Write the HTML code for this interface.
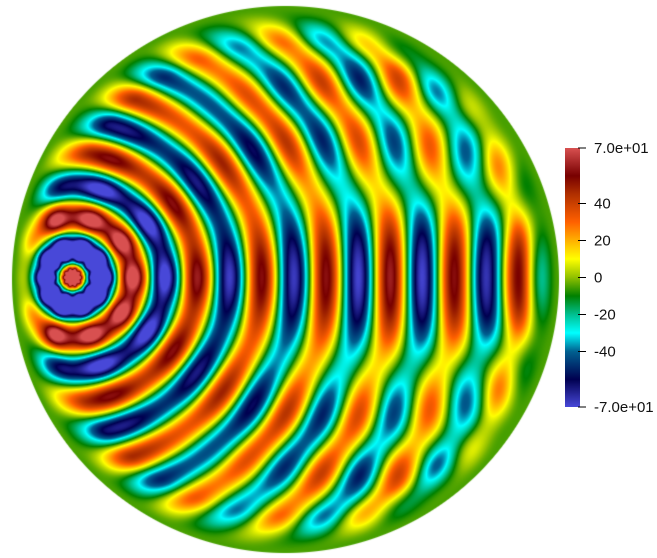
<!DOCTYPE html>
<html><head><meta charset="utf-8"><style>
html,body{margin:0;padding:0;background:#fff;width:657px;height:558px;overflow:hidden;font-family:"Liberation Sans",sans-serif}
#field{position:absolute;left:0;top:0}
#cb{position:absolute;left:0;top:0}
</style></head><body>
<canvas id="field" width="657" height="558"></canvas>
<svg id="cb" width="657" height="558">
<defs><linearGradient id="g" x1="0" y1="0" x2="0" y2="1"></linearGradient></defs>
<rect x="565" y="148" width="15" height="259" fill="url(#g)"/>
<g id="ticks" font-size="15" fill="#111"></g>
</svg>
<script>
const tickValues=[70,40,20,0,-20,-40,-70];
const tickLabels=["7.0e+01","40","20","0","-20","-40","-7.0e+01"];
const source=[72,277];
const wavelength=[64];
const cmapVals=[70,55,45,30,20,10,0,-10,-20,-30,-40,-55,-70];
const cmapCols=[[216,80,80],[120,0,0],[176,48,0],[255,96,0],[255,176,0],[255,255,0],[144,192,0],[0,128,0],[0,192,144],[0,255,255],[0,96,144],[0,0,80],[72,72,216]];
const vmin=-70,vmax=70,cbTop=148,cbBot=407;
function cy(v){return cbTop+(vmax-v)/(vmax-vmin)*(cbBot-cbTop);}
const grad=document.getElementById('g');
cmapVals.forEach((v,i)=>{const s=document.createElementNS('http://www.w3.org/2000/svg','stop');s.setAttribute('offset',(vmax-v)/(vmax-vmin));s.setAttribute('stop-color','rgb('+cmapCols[i].join(',')+')');grad.appendChild(s);});
const tg=document.getElementById('ticks');
tickValues.forEach((v,i)=>{
 const l=document.createElementNS('http://www.w3.org/2000/svg','line');
 l.setAttribute('x1',578);l.setAttribute('x2',586);l.setAttribute('y1',cy(v));l.setAttribute('y2',cy(v));l.setAttribute('stroke','#000');
 
 
 tg.appendChild(l);
 const t=document.createElementNS('http://www.w3.org/2000/svg','text');
 t.setAttribute('x',594);t.setAttribute('y',cy(v)+5);t.textContent=tickLabels[i];
 
 
 tg.appendChild(t);
});
function cmap(v){
 if(v>=cmapVals[0])return cmapCols[0];
 if(v<=cmapVals[cmapVals.length-1])return cmapCols[cmapCols.length-1];
 for(let i=0;i<cmapVals.length-1;i++){if(v<=cmapVals[i]&&v>=cmapVals[i+1]){const t=(cmapVals[i]-v)/(cmapVals[i]-cmapVals[i+1]);const a=cmapCols[i],b=cmapCols[i+1];return[a[0]+(b[0]-a[0])*t,a[1]+(b[1]-a[1])*t,a[2]+(b[2]-a[2])*t];}}
}
const cv=document.getElementById('field'),ctx=cv.getContext('2d');
const CX=285,CY=279,R=273,IX=635,IY=277,k=2*Math.PI/wavelength[0];
const img=ctx.createImageData(657,558);
for(let y=0;y<558;y++)for(let x=0;x<600;x++){
 const dc=Math.hypot(x-CX,y-CY); if(dc>R+1)continue;
 const r1=Math.hypot(x-source[0],y-source[1]);
 const r2=Math.hypot(x-IX,y-IY);
 const A1=42*Math.sqrt(300/(r1+10));
 const ang=Math.atan2(y-source[1],x-source[0]);
 const u1=A1*Math.cos(k*r1+0.3)*(0.88+0.12*Math.cos(10*ang));
 const w2=Math.max(0,Math.min(1,(x-170)/220))*(0.35+0.65*Math.exp(-Math.pow((y-IY)/70,2)));
 const u2=26*w2*Math.cos(k*r2+1.2);
 let taper=Math.max(0,Math.min(1,(R-dc)/40)); taper=taper*taper*(3-2*taper);
 const v=(u1+u2)*taper-5;
 const c=cmap(v); const a=Math.max(0,Math.min(1,R+1-dc));
 const p=(y*657+x)*4; img.data[p]=c[0]*a+255*(1-a);img.data[p+1]=c[1]*a+255*(1-a);img.data[p+2]=c[2]*a+255*(1-a);img.data[p+3]=255;
}
for(let i=3;i<img.data.length;i+=4){if(img.data[i]===0){img.data[i-3]=255;img.data[i-2]=255;img.data[i-1]=255;img.data[i]=255;}}
ctx.putImageData(img,0,0);
</script>
</body></html>
